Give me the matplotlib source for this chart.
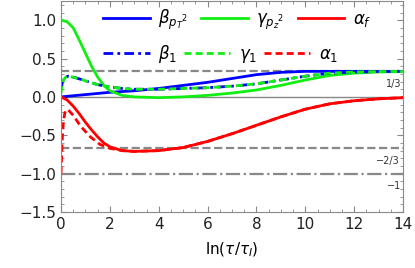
import matplotlib
matplotlib.use("Agg")
import matplotlib.pyplot as plt
from matplotlib.ticker import MultipleLocator

# --- data ---
x_gpz = [0, 0.25, 0.5, 0.75, 1.0, 1.25, 1.5, 1.75, 2.0, 2.5, 3, 4, 5, 6, 7, 8, 9, 10, 11, 12, 13, 14]
gamma_pz2 = [1.0, 0.98, 0.9, 0.74, 0.57, 0.4, 0.26, 0.15, 0.08, 0.02, 0.0, -0.01, 0.0, 0.02, 0.05, 0.09, 0.15, 0.22, 0.28, 0.31, 0.325, 0.33]

x_bpt = [0, 1, 2, 3, 4, 5, 6, 7, 8, 9, 10, 11, 12, 13, 14]
beta_pt2 = [0.0, 0.03, 0.06, 0.08, 0.11, 0.15, 0.19, 0.24, 0.29, 0.32, 0.333, 0.333, 0.333, 0.333, 0.333]

x_af = [0, 0.25, 0.5, 0.75, 1.0, 1.25, 1.5, 1.75, 2.0, 2.5, 3, 4, 5, 6, 7, 8, 9, 10, 11, 12, 13, 14]
alpha_f = [0.0, -0.04, -0.12, -0.22, -0.33, -0.43, -0.52, -0.6, -0.65, -0.70, -0.71, -0.70, -0.66, -0.58, -0.48, -0.37, -0.26, -0.16, -0.09, -0.05, -0.025, -0.01]

x_1 = [0, 0.05, 0.1, 0.2, 0.3, 0.6, 1.0, 1.5, 2.0, 2.5, 3, 4, 5, 6, 7, 8, 9, 10, 11, 12, 13, 14]
beta_1 = [0.1, 0.18, 0.23, 0.26, 0.27, 0.25, 0.21, 0.16, 0.13, 0.11, 0.10, 0.10, 0.11, 0.12, 0.14, 0.17, 0.22, 0.27, 0.31, 0.325, 0.33, 0.333]
gamma_1 = [0.05, 0.15, 0.22, 0.26, 0.27, 0.25, 0.21, 0.16, 0.13, 0.11, 0.10, 0.10, 0.11, 0.12, 0.14, 0.17, 0.22, 0.27, 0.31, 0.325, 0.33, 0.333]

x_a1 = [0, 0.03, 0.06, 0.1, 0.15, 0.2, 0.3, 0.5, 0.8, 1.2, 1.6, 2.0, 2.5, 3, 4, 5, 6, 7, 8, 9, 10, 11, 12, 13, 14]
alpha_1 = [-1.0, -0.75, -0.5, -0.32, -0.22, -0.17, -0.17, -0.24, -0.38, -0.52, -0.62, -0.67, -0.70, -0.71, -0.70, -0.66, -0.58, -0.48, -0.37, -0.26, -0.16, -0.09, -0.05, -0.025, -0.01]

ref_levels = [1/3, -2/3, -1]
ref_labels = ["1/3", "\u22122/3", "\u22121"]
ref_styles = ["--", "--", "-."]

xticks = [0, 2, 4, 6, 8, 10, 12, 14]
yticks = [-1.5, -1.0, -0.5, 0.0, 0.5, 1.0]

# --- plot ---
fig = plt.figure(figsize=(4.15, 2.68), dpi=100)
ax = fig.add_axes([61/415, 1 - 212/268, (403-61)/415, 211/268])

BLUE = "#0000ff"
GREEN = "#11ee11"
RED = "#ff0000"
GRAY = "#888888"

ax.axhline(0, color=GRAY, lw=1.0, zorder=1)
for lvl, ls in zip(ref_levels, ref_styles):
    ax.axhline(lvl, color=GRAY, lw=1.6, ls=ls, zorder=1)
label_y = [0.17, -0.83, -1.16]
label_x = [13.6, 13.4, 13.65]
for lx, ly, t in zip(label_x, label_y, ref_labels):
    ax.text(lx, ly, t, fontsize=7, color="#333333", ha="center", va="center")

h1, = ax.plot(x_bpt, beta_pt2, color=BLUE, lw=2, label=r"$\beta_{{p_T}^2}$")
h2, = ax.plot(x_gpz, gamma_pz2, color=GREEN, lw=2, label=r"$\gamma_{{p_z}^2}$")
h3, = ax.plot(x_af, alpha_f, color=RED, lw=2, label=r"$\alpha_f$")
h4, = ax.plot(x_1, beta_1, color=BLUE, lw=2, ls=(0, (3.5, 1.5, 1, 1.5)), label=r"$\beta_1$")
h5, = ax.plot(x_1, gamma_1, color=GREEN, lw=2, ls=(0, (2.5, 1.5)), label=r"$\gamma_1$")
h6, = ax.plot(x_a1, alpha_1, color=RED, lw=2, ls=(0, (2.5, 1.5)), label=r"$\alpha_1$")

ax.set_xlim(0, 14)
ax.set_ylim(-1.5, 1.25)
ax.set_xticks(xticks)
ax.set_yticks(yticks)
ax.xaxis.set_minor_locator(MultipleLocator(0.5))
ax.yaxis.set_minor_locator(MultipleLocator(0.1))
ax.tick_params(which="both", direction="in", top=True, right=True, colors=GRAY, labelcolor="#222222", labelsize=11)
ax.tick_params(which="major", length=4)
ax.tick_params(which="minor", length=2)
for s in ax.spines.values():
    s.set_color(GRAY)
ax.set_xlabel(r"$\ln(\tau/\tau_I)$", fontsize=11, labelpad=6)

common = dict(ncol=3, frameon=False, fontsize=12, loc="center left", borderpad=0, borderaxespad=0,
              handlelength=2.8, handletextpad=0.5)
leg1 = ax.legend(handles=[h1, h2, h3], bbox_to_anchor=(0.123, 1 - 19/211), columnspacing=0.8, **common)
ax.add_artist(leg1)
leg2 = ax.legend(handles=[h4, h5, h6], bbox_to_anchor=(0.123, 1 - 53/211), columnspacing=0.4, **common)

fig.savefig("out.png", dpi=100)
